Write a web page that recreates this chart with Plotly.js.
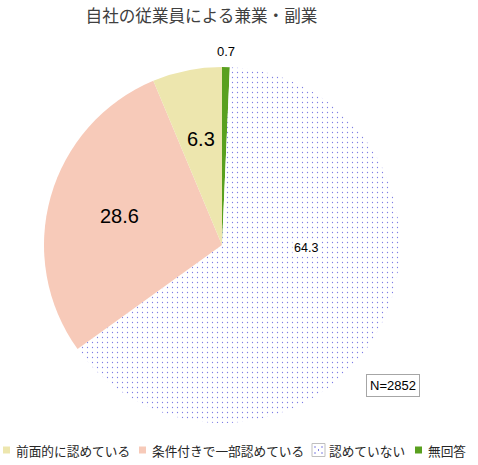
<!DOCTYPE html>
<html>
<head>
<meta charset="utf-8">
<script src="https://cdn.plot.ly/plotly-3.0.1.min.js"></script>
<style>
  html, body { margin: 0; padding: 0; background: #fff; }
  #chart { width: 478px; height: 465px; }
</style>
</head>
<body>
<div id="chart"></div>
<script>
// 自社の従業員による兼業・副業 (N=2852)
var labels = ['前面的に認めている', '条件付きで一部認めている', '認めていない', '無回答'];
var values = [6.3, 28.6, 64.3, 0.7];
var sliceColors = ['#EDE6AE', '#F7CAB9', '#FFFFFF', '#59A01F'];
var patterns = ['', '', '.', ''];
// data label look: font size, distance from centre (share of radius), angle nudge (deg)
var labelSizes = [20, 20, 12.5, 13];
var labelR = [0.61, 0.60, 0.47, 1.085];
var labelNudge = [0, 0, 26.6, 0];
// legend entry start (px) — built by hand, plotly's legend won't fit one row
var legendX = [3, 139, 312, 415];

var W = 478, H = 465;
var cx = 222, cy = 245, R = 178;   // pie centre / radius in px
var dotBlue = '#0000C8';
var font = '"Noto Sans CJK JP", "Liberation Sans", Arial, sans-serif';
var numFont = '"Liberation Sans", Arial, sans-serif';

function px(x) { return x / W; }
function py(y) { return (H - y) / H; }
// excel draws these counterclockwise from 12 o'clock, so feed plotly the reverse
function rev(a) { return a.slice().reverse(); }

var trace = {
    type: 'pie',
    labels: rev(labels),
    values: rev(values),
    sort: false,
    direction: 'clockwise',
    rotation: 0,
    domain: {x: [px(cx - R), px(cx + R)], y: [py(cy + R), py(cy - R)]},
    marker: {
        colors: rev(sliceColors),
        line: {width: 0},
        pattern: {
            shape: rev(patterns),
            fgcolor: dotBlue,
            bgcolor: '#FFFFFF',
            fillmode: 'overlay',
            size: 5,
            solidity: 0.05
        }
    },
    textinfo: 'none',
    hoverinfo: 'label+value',
    showlegend: false
};

var shapes = [];
var annotations = [{
    text: 'N=2852',
    xref: 'paper', yref: 'paper',
    x: px(393), y: py(385.5),
    xanchor: 'center', yanchor: 'middle',
    showarrow: false,
    font: {family: numFont, size: 13, color: '#000'},
    bordercolor: '#A6A6A6', borderwidth: 1, borderpad: 3,
    bgcolor: '#fff'
}];

// data labels, at each slice's mid angle (counterclockwise from top)
var total = values.reduce(function (a, b) { return a + b; }, 0);
var cum = 0;
values.forEach(function (v, i) {
    var mid = ((cum + v / 2) / total * 360 + labelNudge[i]) * Math.PI / 180;
    cum += v;
    var r = labelR[i] * R;
    annotations.push({
        text: v.toFixed(1), xref: 'paper', yref: 'paper',
        x: px(cx - r * Math.sin(mid)), y: py(cy - r * Math.cos(mid)),
        xanchor: 'center', yanchor: 'middle', showarrow: false,
        font: {family: numFont, size: labelSizes[i], color: '#000'},
        bgcolor: patterns[i] === '.' ? '#fff' : 'rgba(0,0,0,0)', borderpad: 1
    });
});

// legend
var ly = 450;
labels.forEach(function (lab, i) {
    var x0 = legendX[i];
    var textX;
    if (patterns[i] === '.') {
        shapes.push({type: 'rect', xref: 'paper', yref: 'paper',
            x0: px(x0), x1: px(x0 + 13), y0: py(ly - 6.5), y1: py(ly + 6.5),
            fillcolor: '#fff', line: {color: '#BFBFBF', width: 1}});
        [[3, -3], [3, 3], [6.5, 0], [10, -3], [10, 3]].forEach(function (d) {
            shapes.push({type: 'rect', xref: 'paper', yref: 'paper',
                x0: px(x0 + d[0] - 0.5), x1: px(x0 + d[0] + 0.5),
                y0: py(ly + d[1] - 0.5), y1: py(ly + d[1] + 0.5),
                fillcolor: dotBlue, line: {width: 0}});
        });
        textX = x0 + 16;
    } else {
        shapes.push({type: 'rect', xref: 'paper', yref: 'paper',
            x0: px(x0), x1: px(x0 + 7), y0: py(ly - 3.5), y1: py(ly + 3.5),
            fillcolor: sliceColors[i], line: {width: 0}});
        textX = x0 + 12;
    }
    annotations.push({
        text: lab, xref: 'paper', yref: 'paper',
        x: px(textX), y: py(ly), xanchor: 'left', yanchor: 'middle',
        showarrow: false, borderpad: 0,
        font: {family: font, size: 12.7, color: '#262626'}
    });
});

var layout = {
    width: W,
    height: H,
    margin: {l: 0, r: 0, t: 0, b: 0},
    paper_bgcolor: '#fff',
    title: {
        text: '自社の従業員による兼業・副業',
        font: {family: font, size: 16.6, color: '#404040'},
        x: 0.4215, xanchor: 'center',
        y: py(16), yanchor: 'middle'
    },
    showlegend: false,
    shapes: shapes,
    annotations: annotations
};

Plotly.newPlot('chart', [trace], layout, {displayModeBar: false});
</script>
</body>
</html>
